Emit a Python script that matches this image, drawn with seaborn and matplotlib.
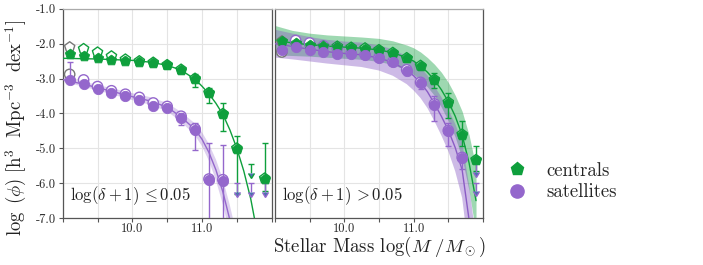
import numpy as np
import matplotlib
matplotlib.use("Agg")
import matplotlib.pyplot as plt
from matplotlib.lines import Line2D
import seaborn as sns

nan = np.nan

# stellar mass bin centres, log(M/Msun)
M_BINS = [9.1, 9.3, 9.5, 9.7, 9.9, 10.1, 10.3, 10.5, 10.7, 10.9, 11.1, 11.3, 11.5, 11.7, 11.9]

# --- low density panel: log(delta+1) <= 0.05 ---
LO_CEN = [-2.29, -2.35, -2.41, -2.48, -2.51, -2.52, -2.55, -2.62, -2.75, -3.01, -3.42, -4.02, -5.01, nan, -5.87]
LO_CEN_UP = [0.03, 0.03, 0.03, 0.03, 0.03, 0.03, 0.03, 0.04, 0.05, 0.14, 0.15, 0.32, 0.35, nan, 1.03]
LO_CEN_DN = [0.03, 0.03, 0.03, 0.03, 0.03, 0.03, 0.03, 0.04, 0.05, 0.22, 0.28, 0.49, 1.30, nan, 0.35]
LO_CEN_OPEN = [-2.10, -2.15, -2.25, -2.36, -2.45, -2.50, -2.54, -2.61, -2.74, -3.00, -3.41, -4.01, -5.00, nan, -5.86]
LO_CEN_LIM_X = [11.7]
LO_CEN_LIM_Y = [-5.45]

LO_SAT = [-3.04, -3.16, -3.30, -3.42, -3.51, -3.61, -3.78, -3.85, -4.12, -4.47, -5.92, -5.95, nan, nan, nan]
LO_SAT_UP = [0.50, 0.04, 0.04, 0.04, 0.04, 0.05, 0.05, 0.06, 0.14, 0.20, 1.07, 1.05, nan, nan, nan]
LO_SAT_DN = [0.03, 0.04, 0.04, 0.04, 0.04, 0.05, 0.05, 0.06, 0.20, 0.57, 1.50, 1.50, nan, nan, nan]
LO_SAT_OPEN = [-2.88, -3.04, -3.23, -3.35, -3.45, -3.54, -3.70, -3.80, -4.08, -4.44, -5.88, -5.90, nan, nan, nan]
LO_SAT_LIM_X = [11.5, 11.7, 11.9]
LO_SAT_LIM_Y = [-6.0, -6.0, -6.0]

# --- high density panel: log(delta+1) > 0.05 ---
HI_CEN = [-1.93, -1.99, -2.03, -2.07, -2.10, -2.12, -2.14, -2.19, -2.27, -2.42, -2.64, -3.04, -3.69, -4.61, -5.34]
HI_CEN_UP = [0.04, 0.04, 0.04, 0.04, 0.04, 0.04, 0.04, 0.04, 0.05, 0.06, 0.07, 0.19, 0.27, 0.38, 0.40]
HI_CEN_DN = [0.04, 0.04, 0.04, 0.04, 0.04, 0.04, 0.04, 0.04, 0.05, 0.06, 0.10, 0.23, 0.44, 0.33, 0.30]
HI_CEN_OPEN = [-1.93, -1.99, -2.03, -2.07, -2.08, -2.11, -2.13, -2.18, -2.26, -2.41, -2.63, -3.03, -3.68, -4.60, -5.33]

HI_SAT = [-2.17, -2.10, -2.17, -2.23, -2.29, -2.30, -2.34, -2.42, -2.54, -2.77, -3.13, -3.75, -4.51, -5.28, nan]
HI_SAT_UP = [0.04, 0.04, 0.04, 0.04, 0.04, 0.04, 0.04, 0.04, 0.05, 0.07, 0.13, 0.24, 0.24, 0.13, nan]
HI_SAT_DN = [0.04, 0.04, 0.04, 0.04, 0.04, 0.04, 0.04, 0.04, 0.05, 0.13, 0.17, 0.48, 0.43, 0.30, nan]
HI_SAT_OPEN = [-2.24, -1.91, -1.98, -2.07, -2.14, -2.27, -2.32, -2.40, -2.52, -2.75, -3.11, -3.73, -4.49, -5.26, nan]
HI_SAT_LIM_X = [11.9, 11.9]
HI_SAT_LIM_Y = [-5.42, -5.98]

# --- Schechter fits ---
XF = [9.0, 9.25, 9.5, 9.75, 10.0, 10.25, 10.5, 10.7, 10.9, 11.0, 11.1, 11.2, 11.3, 11.4, 11.5, 11.6, 11.7, 11.8, 11.9]
LO_CEN_FIT = [-2.42, -2.43, -2.44, -2.46, -2.48, -2.53, -2.62, -2.76, -3.02, -3.22, -3.44, -3.71, -4.03, -4.47, -5.00, -5.65, -6.45, -7.50, -8.70]
LO_SAT_FIT = [-3.03, -3.14, -3.26, -3.39, -3.52, -3.64, -3.82, -4.10, -4.46, -4.74, -5.12, -5.62, -6.25, -7.05, -8.00, -9.10, -10.3, -11.6, -13.0]
LO_SAT_BAND = [0.06, 0.07, 0.08, 0.09, 0.10, 0.11, 0.12, 0.14, 0.17, 0.20, 0.24, 0.30, 0.36, 0.42, 0.50, 0.60, 0.70, 0.80, 0.90]
HI_CEN_FIT = [-1.90, -1.98, -2.03, -2.07, -2.10, -2.13, -2.18, -2.26, -2.40, -2.50, -2.64, -2.82, -3.04, -3.32, -3.66, -4.08, -4.62, -5.42, -6.50]
HI_CEN_BAND = [0.42, 0.36, 0.33, 0.32, 0.32, 0.32, 0.33, 0.34, 0.36, 0.38, 0.40, 0.42, 0.45, 0.50, 0.55, 0.60, 0.68, 0.80, 0.95]
HI_SAT_FIT = [-2.00, -2.08, -2.16, -2.23, -2.28, -2.32, -2.41, -2.54, -2.76, -2.92, -3.12, -3.38, -3.72, -4.08, -4.48, -4.98, -5.62, -7.05, -8.80]
HI_SAT_BAND = [0.40, 0.37, 0.35, 0.34, 0.34, 0.35, 0.36, 0.38, 0.40, 0.42, 0.44, 0.47, 0.50, 0.55, 0.60, 0.68, 0.80, 1.00, 1.20]

GREEN = "#0e9f3c"
PURPLE = "#9467cc"
GREY = "#777777"

sns.set_theme(style="whitegrid")
plt.rcParams["font.family"] = ["cmr10", "DejaVu Serif"]
plt.rcParams["mathtext.fontset"] = "cm"
plt.rcParams["axes.unicode_minus"] = False

fig = plt.figure(figsize=(7.03, 2.65), dpi=100)
ax_lo = fig.add_axes([0.0892, 0.177, 0.2972, 0.790])
ax_hi = fig.add_axes([0.391, 0.177, 0.296, 0.790])


def draw_series(ax, vals, up, dn, opened, color, marker, size):
    x = np.array(M_BINS)
    v = np.array(vals)
    o = np.array(opened)
    # open markers (first bin has a grey edge)
    edges = [GREY] + [color] * (len(x) - 1)
    ax.scatter(x, o, marker=marker, s=size, facecolor="white", edgecolor=edges,
               linewidth=1.0, zorder=4)
    ax.errorbar(x, v, yerr=[dn, up], fmt="none", ecolor=color, elinewidth=1.0,
                capsize=2, capthick=1.0, zorder=5)
    sns.scatterplot(x=x, y=v, marker=marker, s=size, color=color, edgecolor=color,
                    linewidth=0.6, ax=ax, zorder=6, legend=False)


def draw_limits(ax, lx, ly, color):
    ax.errorbar(lx, ly, yerr=0.25, uplims=True, fmt="none", ecolor=color,
                elinewidth=1.0, capsize=2.5, capthick=1.0, markersize=4, zorder=5)


def draw_fit(ax, y, color, band=None, alpha=0.35):
    y = np.array(y)
    if band is not None:
        b = np.array(band)
        ax.fill_between(XF, y - b, y + b, color=color, alpha=alpha, lw=0, zorder=2)
    sns.lineplot(x=XF, y=y, color=color, lw=1.0, ax=ax, zorder=3)


# left panel
draw_fit(ax_lo, LO_CEN_FIT, GREEN)
draw_fit(ax_lo, LO_SAT_FIT, PURPLE, LO_SAT_BAND, alpha=0.3)
draw_series(ax_lo, LO_CEN, LO_CEN_UP, LO_CEN_DN, LO_CEN_OPEN, GREEN, "p", 60)
draw_series(ax_lo, LO_SAT, LO_SAT_UP, LO_SAT_DN, LO_SAT_OPEN, PURPLE, "o", 55)
draw_limits(ax_lo, LO_CEN_LIM_X, LO_CEN_LIM_Y, GREEN)
draw_limits(ax_lo, LO_SAT_LIM_X, LO_SAT_LIM_Y, PURPLE)

# right panel
draw_fit(ax_hi, HI_CEN_FIT, GREEN, HI_CEN_BAND, alpha=0.4)
draw_fit(ax_hi, HI_SAT_FIT, "#8a5cc4", HI_SAT_BAND, alpha=0.42)
draw_series(ax_hi, HI_CEN, HI_CEN_UP, HI_CEN_DN, HI_CEN_OPEN, GREEN, "p", 60)
draw_series(ax_hi, HI_SAT, HI_SAT_UP, HI_SAT_DN, HI_SAT_OPEN, PURPLE, "o", 55)
draw_limits(ax_hi, HI_SAT_LIM_X, HI_SAT_LIM_Y, PURPLE)

xt = [9.0, 9.5, 10.0, 10.5, 11.0, 11.5, 12.0]
xtl = ["", "", "10.0", "", "11.0", "", ""]
yt = [-7, -6, -5, -4, -3, -2, -1]
ytl = ["-7.0", "-6.0", "-5.0", "-4.0", "-3.0", "-2.0", "-1.0"]

for ax in (ax_lo, ax_hi):
    ax.set_xlim(9.0, 12.0)
    ax.set_ylim(-7.0, -1.0)
    ax.set_xticks(xt)
    ax.set_xticklabels(xtl)
    ax.set_yticks(yt)
    ax.grid(True, color="#e4e4e4", lw=0.8)
    ax.set_axisbelow(True)
    for side, sp in ax.spines.items():
        sp.set_color("#555555")
        sp.set_linewidth(0.9)
    ax.spines["top"].set_color("#aaaaaa")
    ax.tick_params(axis="x", direction="out", length=3, width=0.8, color="#555555",
                   labelsize=9, pad=0.5, bottom=True)
    ax.set_xlabel("")
    ax.set_ylabel("")

ax_lo.set_yticklabels(ytl)
ax_lo.tick_params(axis="y", direction="out", length=3, width=0.8, color="#555555",
                  labelsize=9, pad=2, left=True)
ax_hi.set_yticklabels([])
ax_hi.tick_params(axis="y", length=0)

ax_lo.text(0.035, 0.085, r"$\log(\delta+1)\,\leq$0.05", transform=ax_lo.transAxes,
           fontsize=12, ha="left", va="baseline", color="#222222")
ax_hi.text(0.035, 0.085, r"$\log(\delta+1)\,>$0.05", transform=ax_hi.transAxes,
           fontsize=12, ha="left", va="baseline", color="#222222")

ax_hi.set_xlabel(r"Stellar Mass $\log(M\ /M_\odot)$", fontsize=13.5, labelpad=0,
                 color="#222222")
fig.text(0.023, 0.517, r"$\log\ (\phi)\ [\mathrm{h}^3\ \ \mathrm{Mpc}^{-3}\ \ \mathrm{dex}^{-1}]$",
         rotation=90, ha="center", va="center", fontsize=13.5, color="#222222")

handles = [Line2D([], [], marker="p", ls="", color=GREEN, ms=9.5),
           Line2D([], [], marker="o", ls="", color=PURPLE, ms=9.5)]
fig.legend(handles, ["centrals", "satellites"], loc="center left",
           bbox_to_anchor=(0.7217, 0.315), frameon=False, fontsize=13.5,
           handlelength=1.0, handletextpad=1.1, labelspacing=0.2,
           borderaxespad=0, borderpad=0)

fig.savefig("out.png", dpi=100)
